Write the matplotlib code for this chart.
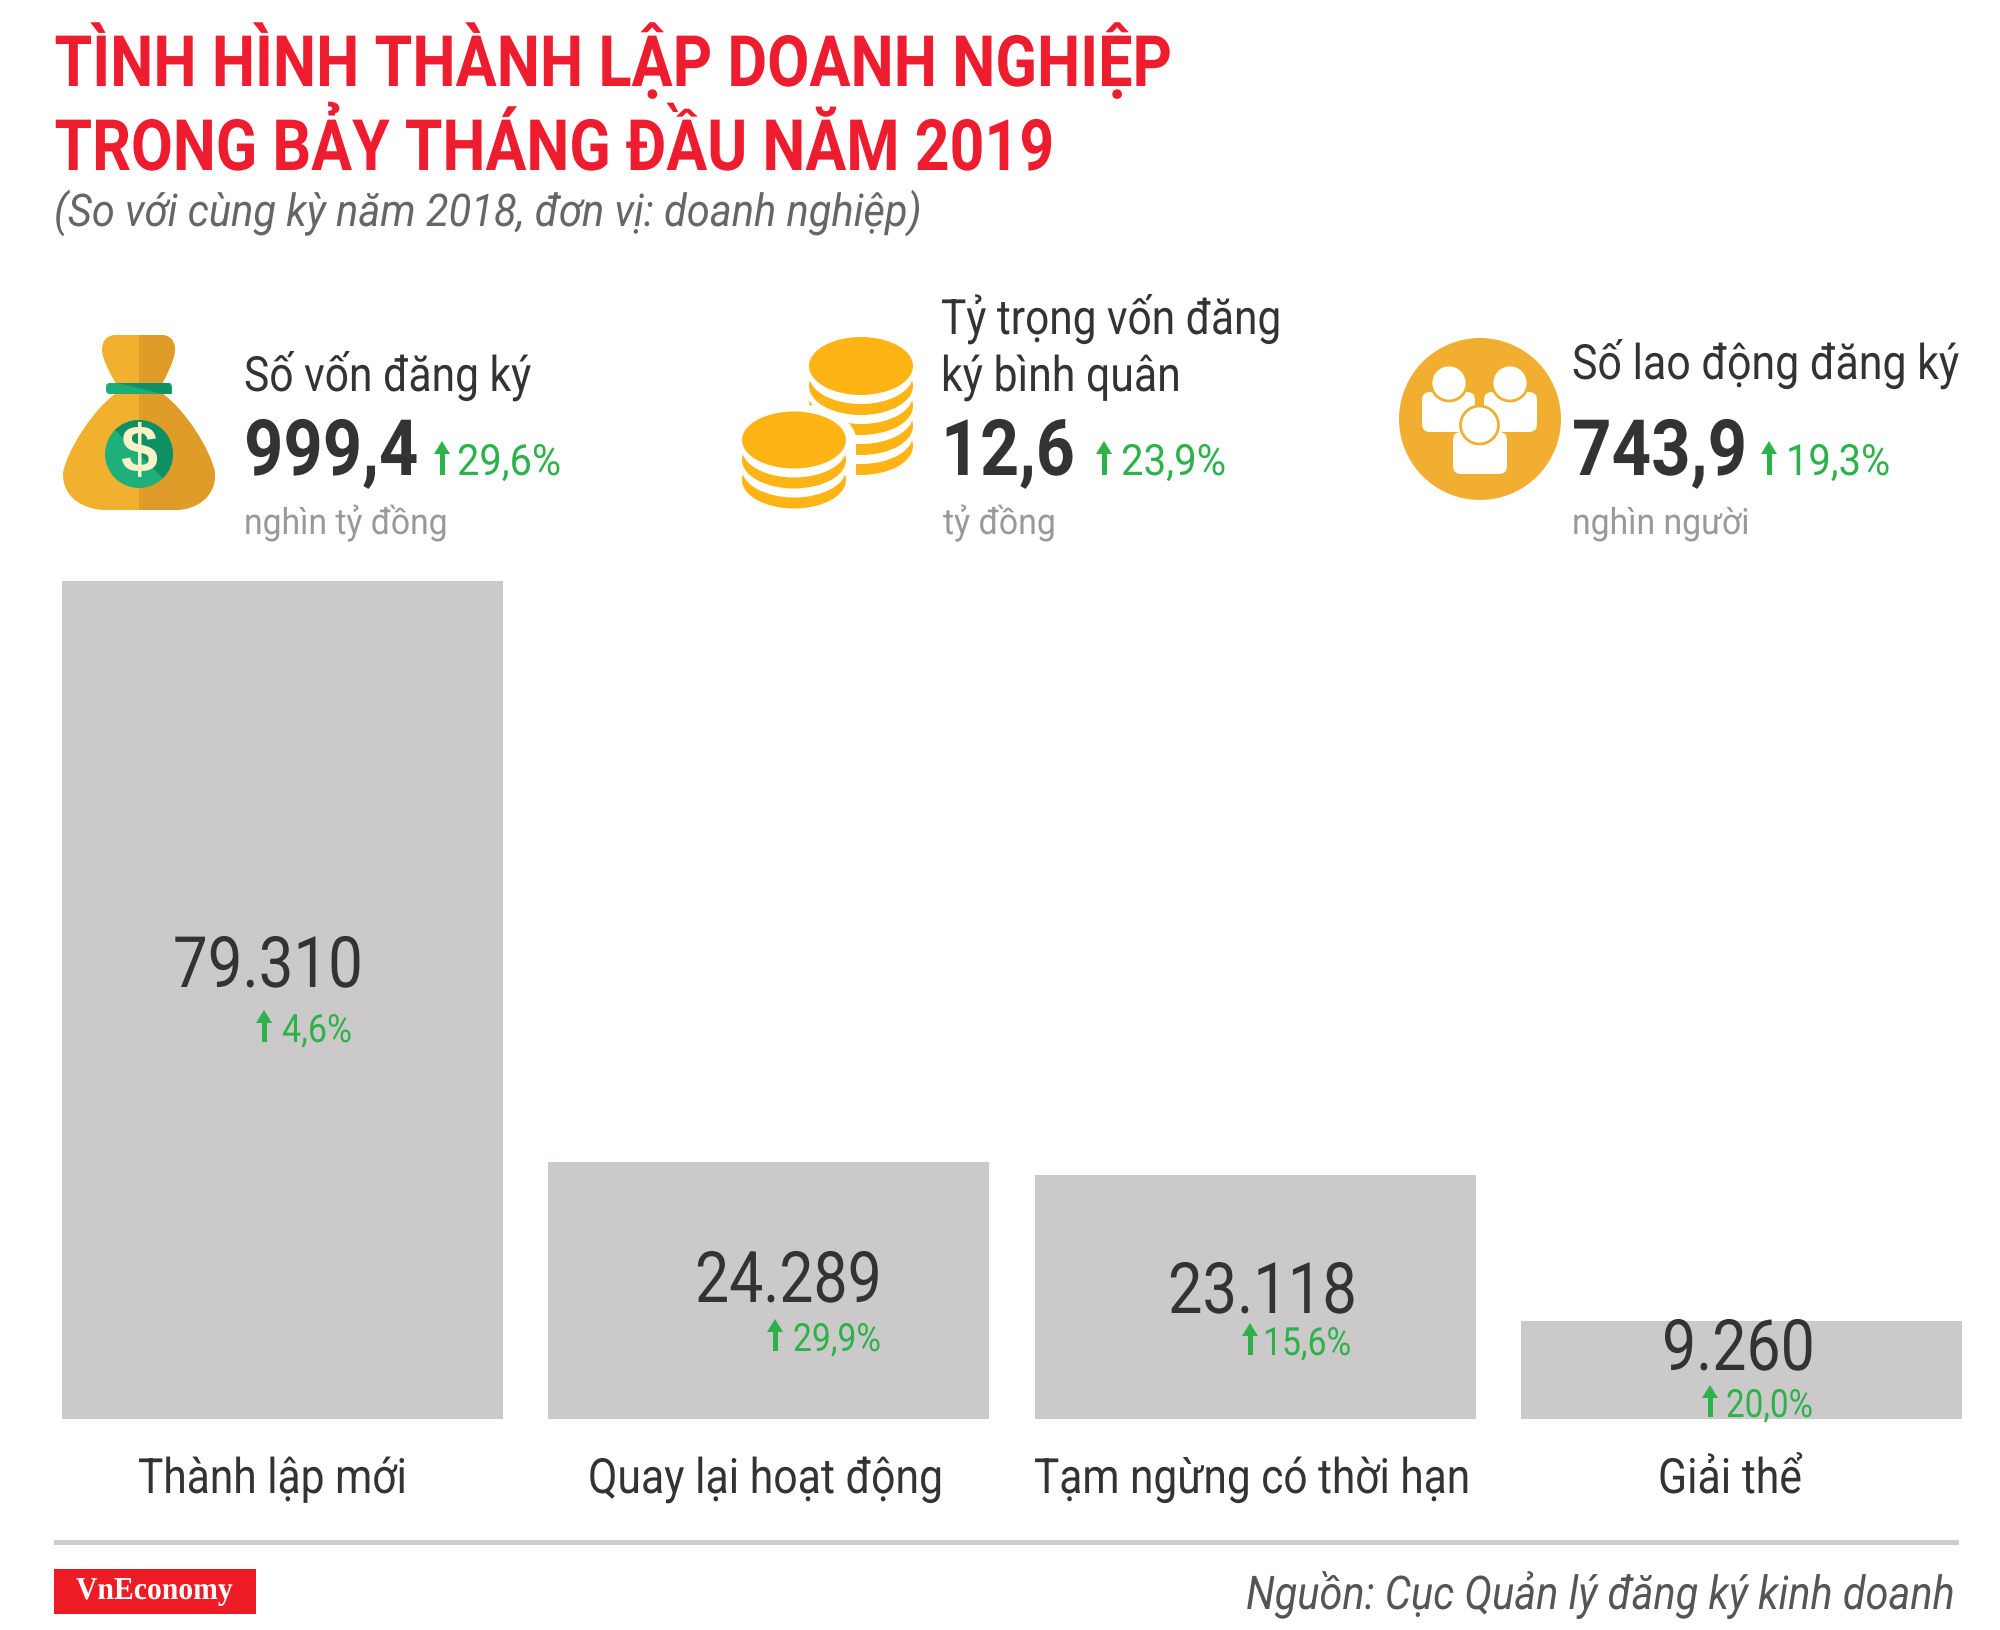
import matplotlib
matplotlib.use('Agg')
import matplotlib.pyplot as plt
from matplotlib.patches import Circle, Ellipse, Rectangle, FancyBboxPatch, PathPatch, Wedge, Polygon
from matplotlib.patheffects import AbstractPathEffect
from matplotlib.path import Path
from matplotlib.text import Text
from matplotlib.transforms import Affine2D, Bbox

# Data
categories = ['Thành lập mới', 'Quay lại hoạt động', 'Tạm ngừng có thời hạn', 'Giải thể']
values = [79310, 24289, 23118, 9260]
value_labels = ['79.310', '24.289', '23.118', '9.260']
change_labels = ['4,6%', '29,9%', '15,6%', '20,0%']

stat_titles = [['Số vốn đăng ký'], ['Tỷ trọng vốn đăng', 'ký bình quân'], ['Số lao động đăng ký']]
stat_values = ['999,4', '12,6', '743,9']
stat_changes = ['29,6%', '23,9%', '19,3%']
stat_units = ['nghìn tỷ đồng', 'tỷ đồng', 'nghìn người']

# Colours
RED = '#ED1C2E'
GREEN = '#2DB24A'
GOLD = '#F2B02F'
GOLD_DARK = '#DF9C28'
COIN = '#FDB414'
DARK = '#333333'


# No condensed Roboto here, so squeeze the glyphs sideways when drawing
class Squeeze(AbstractPathEffect):
    def __init__(self, sx, dx=0):
        self.sx = sx
        self.dx = dx

    def draw_path(self, renderer, gc, tpath, affine, rgbFace=None):
        squeezed = Affine2D().scale(self.sx, 1) + affine + Affine2D().translate(self.dx, 0)
        renderer.draw_path(gc, tpath, squeezed, rgbFace)


class NarrowText(Text):
    sx = 1.0
    dx = 0

    def get_window_extent(self, renderer=None, dpi=None):
        box = super().get_window_extent(renderer, dpi)
        return Bbox.from_extents(box.x0 + self.dx, box.y0, box.x0 + self.dx + box.width * self.sx, box.y1)


fig = plt.figure(figsize=(20, 16.31), dpi=100, facecolor='white')
renderer = fig.canvas.get_renderer()

# Bars, on their own axes
ax_bars = fig.add_axes([62 / 2000, (1631 - 1420) / 1631, 1900 / 2000, 838 / 1631])
ax_bars.bar(range(len(values)), values, width=0.906, color='#CBC9CA')
ax_bars.set_xlim(-0.453, 3.453)
ax_bars.set_ylim(0, max(values))
ax_bars.axis('off')

# Everything else in pixel coordinates
ax = fig.add_axes([0, 0, 1, 1], facecolor='none')
ax.set_xlim(0, 2000)
ax.set_ylim(1631, 0)
ax.axis('off')


def label(x, y, s, size, width, color=DARK, weight='normal', style='normal', family='Roboto', right=False):
    # starts at x, baseline at y, squeezed to the wanted width in pixels
    ha = 'right' if right else 'left'
    t = NarrowText(x + width if right else x, y, s, fontsize=size, color=color, fontweight=weight,
                   fontstyle=style, ha=ha, va='baseline', family=family)
    ax.add_artist(t)
    natural = t.get_window_extent(renderer).width
    t.sx = width / natural
    t.dx = natural - width if right else 0
    t.set_path_effects([Squeeze(t.sx, t.dx)])
    return t


def up_arrow(x, y0, y1, head=8, shaft=5):
    # green arrow, x is the centre, y0 the bottom, y1 the tip
    ax.add_patch(Rectangle((x - shaft / 2, y1 + 11), shaft, y0 - y1 - 11, color=GREEN, lw=0))
    ax.add_patch(Polygon([(x - head, y1 + 13), (x, y1), (x + head, y1 + 13)], color=GREEN, lw=0))


# Title
label(54.5, 87, 'TÌNH HÌNH THÀNH LẬP DOANH NGHIỆP', 51, 1118, RED, 'bold')
label(54.5, 171, 'TRONG BẢY THÁNG ĐẦU NĂM 2019', 51, 1000, RED, 'bold')
label(54, 227, '(So với cùng kỳ năm 2018, đơn vị: doanh nghiệp)', 32.5, 868, '#666666', style='italic')

# Header stats
stat_x = [244, 941, 1572]
title_y = [[392], [335, 392], [380]]
title_w = [[287], [340, 240], [387]]
value_w = [174, 134, 175]
change_x = [457, 1121, 1786]
change_w = [104, 105, 104]
arrow_x = [442, 1104, 1769]
unit_x = [244, 943, 1572]
unit_w = [204, 113, 178]
for i in range(3):
    for line, y, w in zip(stat_titles[i], title_y[i], title_w[i]):
        label(stat_x[i], y, line, 35, w)
    label(stat_x[i], 476, stat_values[i], 56, value_w[i], weight='bold')
    label(change_x[i], 476, stat_changes[i], 31, change_w[i], GREEN)
    up_arrow(arrow_x[i], 476, 442)
    label(unit_x[i], 535, stat_units[i], 26, unit_w[i], '#999999')

# Bar labels
value_x = [173, 695, 1168, 1662]
value_y = [988, 1303, 1314, 1371]
value_w2 = [190, 187, 189, 153]
change_x2 = [282, 793, 1263, 1726]
change_y2 = [1043, 1352, 1356, 1418]
change_w2 = [70, 88, 88, 87]
arrow_x2 = [264, 775, 1250, 1710]
for i in range(4):
    label(value_x[i], value_y[i], value_labels[i], 51, value_w2[i])
    label(change_x2[i], change_y2[i], change_labels[i], 28, change_w2[i], GREEN)
    up_arrow(arrow_x2[i], change_y2[i], change_y2[i] - 32)

# Category labels
cat_x = [138, 588, 1034, 1658]
cat_w = [269, 355, 436, 144]
for i in range(4):
    label(cat_x[i], 1494, categories[i], 35, cat_w[i])

# Footer
ax.add_patch(Rectangle((54, 1541), 1905, 5, color='#CCCCCC', lw=0))
ax.add_patch(Rectangle((54, 1570), 202, 45, color='#ED1C24', lw=0))
label(76, 1600, 'VnEconomy', 23, 157, 'white', 'bold', family='Liberation Serif')
label(1246, 1610, 'Nguồn: Cục Quản lý đăng ký kinh doanh', 33.5, 708, '#555555', style='italic', right=True)

# Money bag icon
bag_verts = [(115, 383), (105, 366), (102, 356), (102, 351), (102, 343), (106, 336), (116, 336),
             (161, 336), (171, 336), (175, 343), (175, 351), (175, 356), (172, 366), (163, 383),
             (163, 395), (185, 411), (211, 451), (215, 474), (216, 499), (195, 511), (175, 511),
             (105, 511), (85, 511), (62, 499), (63, 474), (67, 451), (93, 411), (115, 395),
             (115, 383)]
bag_codes = [Path.MOVETO, Path.CURVE4, Path.CURVE4, Path.CURVE4, Path.CURVE4, Path.CURVE4, Path.CURVE4,
             Path.LINETO, Path.CURVE4, Path.CURVE4, Path.CURVE4, Path.CURVE4, Path.CURVE4, Path.CURVE4,
             Path.LINETO, Path.CURVE4, Path.CURVE4, Path.CURVE4, Path.CURVE4, Path.CURVE4, Path.CURVE4,
             Path.LINETO, Path.CURVE4, Path.CURVE4, Path.CURVE4, Path.CURVE4, Path.CURVE4, Path.CURVE4,
             Path.CLOSEPOLY]
bag_path = Path(bag_verts, bag_codes)
ax.add_patch(PathPatch(bag_path, fc=GOLD, lw=0))
right_half = PathPatch(bag_path, fc=GOLD_DARK, lw=0)
ax.add_patch(right_half)
right_half.set_clip_path(Rectangle((139, 300), 100, 230, transform=ax.transData))
ax.add_patch(FancyBboxPatch((110, 388), 58, 3, boxstyle='round,pad=4,rounding_size=4', fc='#1BAE78', lw=0))
ax.add_patch(Polygon([(118, 384), (170, 384), (172, 395), (162, 395)], fc='#0F9165', lw=0))
ax.add_patch(Circle((139, 455), 34, fc='#1DB079', lw=0))
ax.add_patch(Wedge((139, 455), 34, 225, 405, fc='#0E9065', lw=0))
ax.text(139, 455, '$', fontsize=48, color='#FBF1C7', fontweight='bold', ha='center', va='center',
        family='Liberation Sans')

# Coin stacks icon, back stack first, then a white gap around the front one
cx, cy = 861, 367
for k in reversed(range(5)):
    ax.add_patch(Ellipse((cx, cy + k * 20), 104, 58, fc=COIN, lw=0))
    if k > 0:
        ax.add_patch(Ellipse((cx, cy + (k - 1) * 20 + 9), 104, 58, fc='white', lw=0))
cx, cy = 794, 441
ax.add_patch(Ellipse((cx, cy), 124, 72, fc='white', lw=0))
ax.add_patch(Rectangle((732, cy), 124, 80, fc='white', lw=0))
for k in reversed(range(3)):
    ax.add_patch(Ellipse((cx, cy + k * 20), 104, 57, fc=COIN, lw=0))
    if k > 0:
        ax.add_patch(Ellipse((cx, cy + (k - 1) * 20 + 9), 104, 57, fc='white', lw=0))

# People icon
ax.add_patch(Circle((1480, 420), 81, fc='#F2AE30', lw=0))
for x0, y0, w, h in [(1422, 393, 53, 40), (1484, 393, 53, 40), (1453, 433, 54, 42)]:
    ax.add_patch(FancyBboxPatch((x0 + 8, y0 + 8), w - 16, h - 16, boxstyle='round,pad=8',
                                fc='white', lw=0))
for hx, hy, r in [(1449, 384, 18), (1510, 384, 18), (1479.5, 426, 19)]:
    ax.add_patch(Circle((hx, hy), r, fc='white', ec='#F2AE30', lw=2))

fig.savefig('out.png', dpi=100)
